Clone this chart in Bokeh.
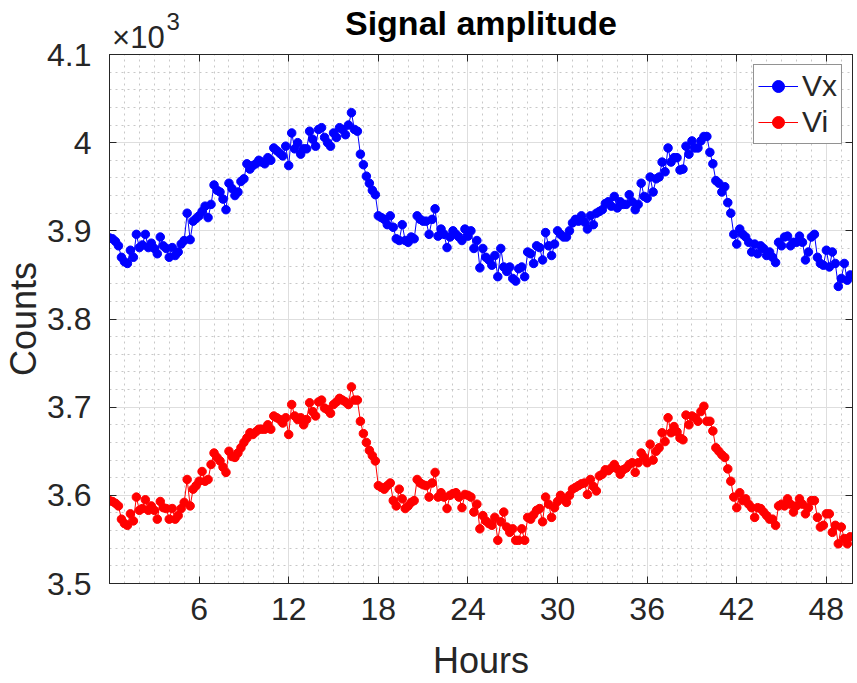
import numpy as np
from bokeh.plotting import figure
from bokeh.models import FixedTicker, LinearAxis, Range1d
from bokeh.embed import file_html
from bokeh.resources import INLINE

# ---------------- data ----------------
step_hours = 0.2  # sample spacing in hours

vx = [
    3892, 3891, 3888, 3883, 3870, 3865, 3863, 3878, 3870, 3896,
    3881, 3884, 3896, 3881, 3886, 3880, 3874, 3893, 3883, 3880,
    3870, 3881, 3872, 3876, 3885, 3889, 3920, 3890, 3911, 3914,
    3917, 3922, 3928, 3915, 3930, 3952, 3946, 3944, 3936, 3924,
    3954, 3948, 3940, 3944, 3956, 3959, 3976, 3970, 3974, 3976,
    3980, 3978, 3976, 3983, 3980, 3994, 3991, 3988, 3985, 3996,
    3974, 4011, 3993, 4000, 3987, 3993, 3993, 4013, 4004, 3996,
    4015, 4017, 4006, 4000, 3996, 4011, 4006, 4017, 4015, 4009,
    4020, 4034, 4015, 4013, 3987, 3975, 3962, 3954, 3946, 3941,
    3917, 3915, 3913, 3907, 3917, 3904, 3891, 3889, 3907, 3889,
    3887, 3893, 3891, 3917, 3913, 3911, 3911, 3896, 3913, 3925,
    3894, 3902, 3896, 3881, 3893, 3900, 3896, 3893, 3889, 3902,
    3894, 3900, 3880, 3889, 3858, 3880, 3870, 3867, 3861, 3872,
    3848, 3880, 3859, 3854, 3859, 3846, 3843, 3857, 3859, 3848,
    3876, 3874, 3863, 3883, 3881, 3867, 3898, 3883, 3872, 3885,
    3900, 3896, 3893, 3893, 3900, 3909, 3913, 3911, 3917, 3910,
    3902, 3917, 3907, 3920, 3922, 3924, 3931, 3933, 3928, 3939,
    3926, 3933, 3930, 3930, 3941, 3933, 3924, 3930, 3954, 3939,
    3937, 3961, 3944, 3959, 3961, 3978, 3967, 3994, 3978, 3983,
    3983, 3969, 3970, 3996, 3987, 4002, 3994, 3994, 4002, 4007,
    4007, 3989, 3976, 3957, 3954, 3944, 3950, 3932, 3920, 3896,
    3885, 3902, 3896, 3893, 3887, 3876, 3885, 3874, 3883, 3880,
    3872, 3876, 3870, 3864, 3887, 3883, 3893, 3894, 3883, 3887,
    3887, 3894, 3887, 3867, 3876, 3893, 3896, 3870, 3863, 3861,
    3878, 3859, 3876, 3863, 3837, 3846, 3863, 3844, 3850,
]

vi = [
    3594, 3593, 3591, 3588, 3573, 3568, 3566, 3579, 3571, 3598,
    3583, 3585, 3595, 3583, 3588, 3583, 3573, 3593, 3586, 3585,
    3573, 3585, 3573, 3577, 3585, 3592, 3618, 3588, 3607, 3611,
    3616, 3627, 3616, 3618, 3635, 3648, 3643, 3639, 3632, 3626,
    3650, 3644, 3643, 3648, 3654, 3660, 3665, 3671, 3669, 3672,
    3675, 3675, 3675, 3680, 3675, 3690, 3688, 3686, 3682, 3688,
    3669, 3703, 3690, 3686, 3688, 3680, 3686, 3705, 3695, 3690,
    3706, 3708, 3699, 3697, 3693, 3703, 3706, 3710, 3708, 3706,
    3703, 3723, 3708, 3708, 3684, 3670, 3660, 3651, 3645, 3639,
    3611, 3609, 3607, 3611, 3614, 3594, 3588, 3607, 3596, 3585,
    3588, 3592, 3594, 3618, 3614, 3612, 3611, 3598, 3614, 3626,
    3598, 3603, 3598, 3585, 3600, 3602, 3603, 3598, 3586, 3601,
    3600, 3598, 3581, 3590, 3562, 3577, 3571, 3568, 3566, 3575,
    3549, 3570, 3581, 3564, 3558, 3562, 3549, 3549, 3562, 3549,
    3575, 3573, 3578, 3583, 3585, 3570, 3598, 3590, 3575, 3586,
    3593, 3600, 3596, 3592, 3600, 3607, 3609, 3611, 3613, 3614,
    3601, 3618, 3610, 3605, 3622, 3624, 3629, 3628, 3631, 3635,
    3630, 3624, 3629, 3631, 3635, 3637, 3626, 3637, 3648, 3643,
    3637, 3658, 3640, 3650, 3654, 3671, 3661, 3688, 3671, 3678,
    3672, 3665, 3663, 3691, 3680, 3690, 3688, 3684, 3695, 3701,
    3684, 3684, 3673, 3654, 3650, 3646, 3643, 3630, 3616, 3598,
    3586, 3603, 3594, 3596, 3590, 3586, 3575, 3586, 3585, 3581,
    3577, 3573, 3573, 3566, 3588, 3590, 3588, 3596, 3590, 3581,
    3588, 3596, 3590, 3579, 3586, 3594, 3594, 3575, 3564, 3566,
    3579, 3579, 3558, 3566, 3545, 3564, 3551, 3545, 3553,
]

series_names = ["Vx", "Vi"]
series_colors = ["#0000FF", "#FF0000"]

x_ticks = [6, 12, 18, 24, 30, 36, 42, 48]
x_minor = [h for h in range(0, 50) if h % 6 != 0]
y_ticks = [3500, 3600, 3700, 3800, 3900, 4000, 4100]
y_minor = [v for v in range(3500, 4101, 20) if v % 100 != 0]
y_tick_labels = {v: f"{v / 1000:g}" for v in y_ticks}

title_text = "Signal amplitude"
mult_text, mult_pos = "\u00d710", 1.93   # multiplier base, centred at this hour
exp_text, exp_pos = "3", 4.27            # its exponent (superscript)

x_start, x_end = 0, 49.75
y_start, y_end = 3500, 4100

hours = np.round(np.arange(len(vx)) * step_hours, 2)

# ---------------- figure ----------------
FONT = "Liberation Sans"
TXT = "#262626"

p = figure(width=857, height=683,
           x_range=Range1d(x_start, x_end), y_range=Range1d(y_start, y_end),
           output_backend="svg", toolbar_location=None,
           min_border_left=106, min_border_right=5,
           min_border_top=51, min_border_bottom=95)
p.background_fill_color = "white"
p.border_fill_color = "white"
p.outline_line_color = TXT
p.outline_line_width = 1

xt = FixedTicker(ticks=x_ticks, minor_ticks=x_minor)
yt = FixedTicker(ticks=y_ticks, minor_ticks=y_minor)

xa = p.xaxis[0]
ya = p.yaxis[0]
xa.ticker = xt
ya.ticker = yt
ya.major_label_overrides = y_tick_labels

for ax in (xa, ya):
    ax.major_tick_in = 7
    ax.major_tick_out = 0
    ax.minor_tick_in = 0
    ax.minor_tick_out = 0
    ax.axis_line_color = TXT
    ax.major_tick_line_color = TXT
    ax.major_label_text_font = FONT
    ax.major_label_text_font_size = "32px"
    ax.major_label_text_color = TXT
    ax.axis_label_text_font = FONT
    ax.axis_label_text_font_size = "36px"
    ax.axis_label_text_font_style = "normal"
    ax.axis_label_text_color = TXT

xa.axis_label = "Hours"
xa.major_label_standoff = 14
xa.axis_label_standoff = 17
ya.axis_label = "Counts"
ya.major_label_standoff = 18
ya.axis_label_standoff = 0

# top axis: box ticks (as minor ticks), the multiplier "x10" as its only
# tick label, and the title as its axis label (pulled onto the same row)
top_ticker = FixedTicker(ticks=[mult_pos], minor_ticks=x_ticks)
top = LinearAxis(ticker=top_ticker,
                 major_label_overrides={mult_pos: mult_text},
                 axis_label=title_text)
top.major_tick_in = 0
top.major_tick_out = 0
top.minor_tick_in = 7
top.minor_tick_out = 0
top.minor_tick_line_color = TXT
top.axis_line_color = TXT
top.major_label_standoff = 0
top.major_label_text_font = FONT
top.major_label_text_font_size = "31px"
top.major_label_text_color = TXT
top.axis_label_text_font = FONT
top.axis_label_text_font_size = "34px"
top.axis_label_text_font_style = "bold"
top.axis_label_text_color = "black"
top.axis_label_standoff = -25
p.add_layout(top, "above")

# second (outer) top axis only carries the exponent, pulled down next to "x10"
exp_axis = LinearAxis(ticker=FixedTicker(ticks=[exp_pos], minor_ticks=[]),
                      major_label_overrides={exp_pos: exp_text})
exp_axis.major_tick_in = 0
exp_axis.major_tick_out = 0
exp_axis.minor_tick_in = 0
exp_axis.minor_tick_out = 0
exp_axis.axis_line_color = None
exp_axis.major_label_standoff = -29
exp_axis.major_label_text_font = FONT
exp_axis.major_label_text_font_size = "24px"
exp_axis.major_label_text_color = TXT
p.add_layout(exp_axis, "above")

right = LinearAxis(ticker=yt, major_label_text_font_size="0px",
                   major_label_overrides={t: "" for t in y_ticks})
right.major_tick_in = 7
right.major_tick_out = 0
right.minor_tick_in = 0
right.minor_tick_out = 0
right.major_label_standoff = 0
right.axis_line_color = TXT
right.major_tick_line_color = TXT
p.add_layout(right, "right")

# grids
for g in (p.xgrid[0], p.ygrid[0]):
    g.grid_line_color = "#dedede"
    g.grid_line_width = 1
    g.minor_grid_line_color = "#c8c8c8"
    g.minor_grid_line_dash = "dotted"
    g.minor_grid_line_width = 1

# series
for name, vals, col in zip(series_names, [vx, vi], series_colors):
    p.line(hours, vals, line_color=col, line_width=1, legend_label=name)
    p.scatter(hours, vals, marker="circle", size=8.5, fill_color=col,
              line_color=col, legend_label=name)

lg = p.legend[0]
lg.location = "top_right"
lg.margin = 10
lg.padding = 4
lg.spacing = 2
lg.glyph_width = 40
lg.glyph_height = 30
lg.label_height = 30
lg.label_standoff = 4
lg.label_text_font = FONT
lg.label_text_font_size = "30px"
lg.label_text_color = TXT
lg.border_line_color = TXT
lg.border_line_width = 1
lg.background_fill_color = "white"
lg.background_fill_alpha = 1.0

open("out.html", "w").write(file_html(p, INLINE))
